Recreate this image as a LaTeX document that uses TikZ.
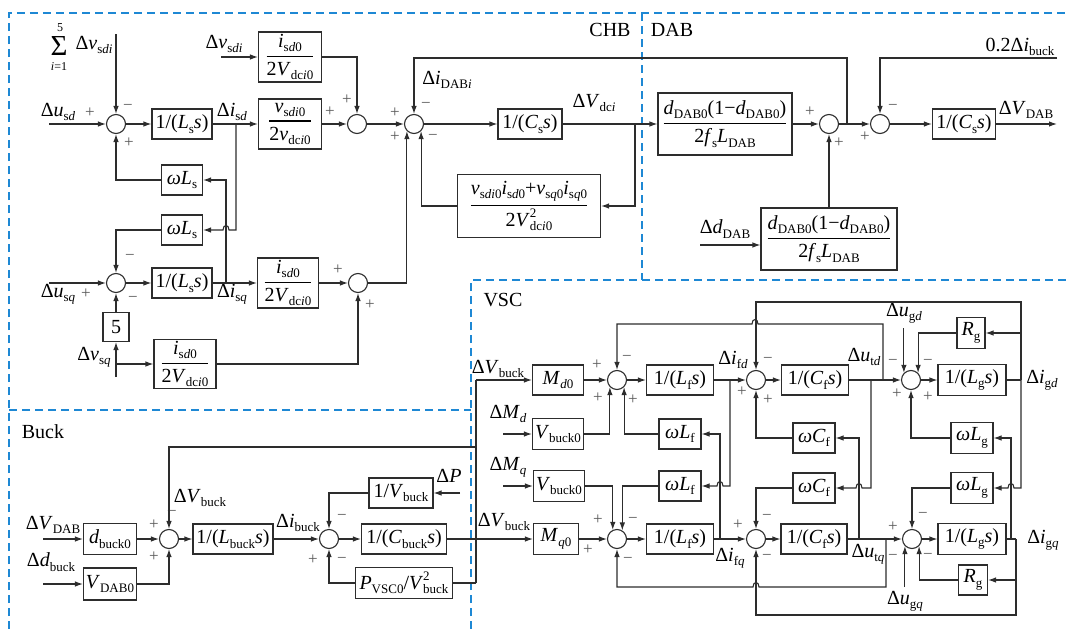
\documentclass[tikz,border=0pt]{standalone}
\usepackage{fontspec}
\setmainfont{Liberation Serif}
\usetikzlibrary{arrows.meta}
\definecolor{regblue}{RGB}{30,136,212}
\definecolor{lncol}{RGB}{45,45,45}
\newcommand\vi[1]{\textit{#1}}
\newcommand\lo[1]{\raisebox{-0.22em}{\fontsize{13}{13}\selectfont #1}}
\newcommand\hi[1]{\raisebox{0.45em}{\fontsize{13}{13}\selectfont #1}}
\newcommand\hilo[2]{\rlap{\hi{#1}}\lo{#2}}
\newcommand\fr[2]{$\displaystyle{\hbox{#1}\above 1.1pt\hbox{#2}}$}
\tikzset{
  ln/.style={draw=lncol, line width=1.1pt},
  ar/.style={ln, -{Latex[length=8pt,width=5.5pt]}},
  blk/.style={draw=lncol, line width=1.1pt, inner sep=1pt},
  bs/.style 2 args={minimum width=#1pt, minimum height=#2pt},
  sm/.style={draw=lncol, line width=1.1pt, circle, minimum size=19pt, inner sep=0pt},
  lb/.style={inner sep=0pt},
  sml/.style={inner sep=0pt, font=\fontsize{12}{12}\selectfont},
  sg/.style={inner sep=0pt, text=black!65, font=\fontsize{17}{17}\selectfont},
  reg/.style={draw=regblue, line width=1.2pt, dash pattern=on 8pt off 5pt},
}
\begin{document}
\begin{tikzpicture}[x=1pt, y=-1pt, font=\fontsize{20}{24}\selectfont]
\useasboundingbox (0,0) rectangle (1066,629);
% ---------- regions
\draw[reg] (9,629) -- (9,13) -- (1066,13);
\draw[reg] (642,13) -- (642,280);
\draw[reg] (471,629) -- (471,280) -- (1066,280);
\draw[reg] (9,410) -- (471,410);
\node[lb] (tCHB) at (610,30) {CHB};
\node[lb] (tDAB) at (672,30) {DAB};
\node[lb] (tVSC) at (503,300) {VSC};
\node[lb] (tBuck) at (43,432) {Buck};
% ---------- CHB nodes
\node[sm] (S1) at (116,124) {};
\node[blk,bs={60}{30}] (Ld) at (182,124) {1/(\vi{L}\lo{s}\vi{s})};
\node[blk,bs={41}{30}] (W1) at (182,180) {\vi{ω}\vi{L}\lo{s}};
\node[blk,bs={41}{30}] (W2) at (182,230) {\vi{ω}\vi{L}\lo{s}};
\node[sm] (S2) at (116,283) {};
\node[blk,bs={60}{30}] (Lq) at (182,283) {1/(\vi{L}\lo{s}\vi{s})};
\node[blk,bs={26}{29}] (F5) at (116,327) {5};
\node[blk,bs={62}{49}] (Bq2) at (185,364) {\fr{\vi{i}\lo{s\vi{d}0}}{2\vi{V}\lo{dc\vi{i}0}}};
\node[blk,bs={63}{50}] (Bd1) at (290,57) {\fr{\vi{i}\lo{s\vi{d}0}}{2\vi{V}\lo{dc\vi{i}0}}};
\node[blk,bs={63}{50}] (Bd2) at (290,124) {\fr{\vi{v}\lo{s\vi{di}0}}{2\vi{v}\lo{dc\vi{i}0}}};
\node[blk,bs={61}{50}] (Bq1) at (288,283) {\fr{\vi{i}\lo{s\vi{d}0}}{2\vi{V}\lo{dc\vi{i}0}}};
\node[sm] (S3) at (357,124) {};
\node[sm] (S4) at (358,283) {};
\node[sm] (S5) at (414,124) {};
\node[blk,bs={64}{30}] (Cs1) at (530,124) {1/(\vi{C}\lo{s}\vi{s})};
\node[blk,bs={143}{63}] (FB) at (529,206) {\fr{\vi{v}\lo{s\vi{di}0}\vi{i}\lo{s\vi{d}0}+\vi{v}\lo{s\vi{q}0}\vi{i}\lo{s\vi{q}0}}{2\vi{V}\hilo{2}{dc\vi{i}0}}};
% ---------- DAB nodes
\node[blk,bs={134}{62}] (DB1) at (725,124) {\fr{\vi{d}\lo{DAB0}(1−\vi{d}\lo{DAB0})}{2\vi{f}\lo{s}\vi{L}\lo{DAB}}};
\node[sm] (S6) at (829,124) {};
\node[sm] (S7) at (880,124) {};
\node[blk,bs={63}{30}] (Cs2) at (964,124) {1/(\vi{C}\lo{s}\vi{s})};
\node[blk,bs={136}{62}] (DB2) at (829,239) {\fr{\vi{d}\lo{DAB0}(1−\vi{d}\lo{DAB0})}{2\vi{f}\lo{s}\vi{L}\lo{DAB}}};
% ---------- VSC nodes
\node[blk,bs={51}{30}] (Md0) at (558,380) {\vi{M}\lo{\vi{d}0}};
\node[blk,bs={51}{31}] (Vb0d) at (558,434) {\vi{V}\lo{buck0}};
\node[sm] (Sfd) at (617,380) {};
\node[blk,bs={67}{30}] (Lfd) at (680,380) {1/(\vi{L}\lo{f}\vi{s})};
\node[blk,bs={42}{30}] (wLfd) at (680,434) {\vi{ω}\vi{L}\lo{f}};
\node[sm] (Scd) at (756,380) {};
\node[blk,bs={67}{30}] (Cfd) at (815,380) {1/(\vi{C}\lo{f}\vi{s})};
\node[blk,bs={42}{30}] (wCfd) at (814,438) {\vi{ω}\vi{C}\lo{f}};
\node[sm] (Sgd) at (911,380) {};
\node[blk,bs={28}{31}] (Rgd) at (971,333) {\vi{R}\lo{g}};
\node[blk,bs={68}{31}] (Lgd) at (972,380) {1/(\vi{L}\lo{g}\vi{s})};
\node[blk,bs={42}{31}] (wLgd) at (972,438) {\vi{ω}\vi{L}\lo{g}};
\node[blk,bs={51}{31}] (Vb0q) at (559,486) {\vi{V}\lo{buck0}};
\node[blk,bs={42}{30}] (wLfq) at (680,486) {\vi{ω}\vi{L}\lo{f}};
\node[blk,bs={42}{30}] (wCfq) at (814,488) {\vi{ω}\vi{C}\lo{f}};
\node[blk,bs={42}{31}] (wLgq) at (972,488) {\vi{ω}\vi{L}\lo{g}};
\node[blk,bs={45}{31}] (Mq0) at (556,539) {\vi{M}\lo{\vi{q}0}};
\node[sm] (Sfq) at (617,539) {};
\node[blk,bs={67}{30}] (Lfq) at (680,539) {1/(\vi{L}\lo{f}\vi{s})};
\node[sm] (Scq) at (756,539) {};
\node[blk,bs={66}{30}] (Cfq) at (814,539) {1/(\vi{C}\lo{f}\vi{s})};
\node[sm] (Sgq) at (912,539) {};
\node[blk,bs={68}{31}] (Lgq) at (972,539) {1/(\vi{L}\lo{g}\vi{s})};
\node[blk,bs={29}{30}] (Rgq) at (973,580) {\vi{R}\lo{g}};
% ---------- Buck nodes
\node[blk,bs={53}{31}] (dbk) at (110,539) {\vi{d}\lo{buck0}};
\node[blk,bs={53}{32}] (Vdab0) at (110,584) {\vi{V}\lo{DAB0}};
\node[sm] (Sbk) at (169,539) {};
\node[blk,bs={80}{30}] (Lbk) at (233,539) {1/(\vi{L}\lo{buck}\vi{s})};
\node[sm] (Sib) at (329,539) {};
\node[blk,bs={85}{30}] (Cbk) at (404,539) {1/(\vi{C}\lo{buck}\vi{s})};
\node[blk,bs={64}{30}] (Vbi) at (401,493) {1/\vi{V}\lo{buck}};
\node[blk,bs={97}{31}] (Pv) at (404,583) {\vi{P}\lo{VSC0}/\vi{V}\hilo{2}{buck}};
% ---------- labels
\node[lb, font=\fontsize{29}{29}\selectfont] (Lsig) at (59,46) {Σ};
\node[sml] (Lsig5) at (60,28) {5};
\node[sml] (Lsigi) at (59,67) {\vi{i}=1};
\node[lb] (Lvsdi1) at (94,45) {Δ\vi{v}\lo{s\vi{di}}};
\node[lb] (Lusd) at (58,112) {Δ\vi{u}\lo{s\vi{d}}};
\node[lb] (Lisd) at (232,112) {Δ\vi{i}\lo{s\vi{d}}};
\node[lb] (Lvsdi2) at (224,44) {Δ\vi{v}\lo{s\vi{di}}};
\node[lb] (Lisq) at (232,294) {Δ\vi{i}\lo{s\vi{q}}};
\node[lb] (Lusq) at (58,294) {Δ\vi{u}\lo{s\vi{q}}};
\node[lb] (Lvsq) at (94,357) {Δ\vi{v}\lo{s\vi{q}}};
\node[lb] (Lidab) at (447,80) {Δ\vi{i}\lo{DAB\vi{i}}};
\node[lb] (Lvdc) at (594,103) {Δ\vi{V}\lo{dc\vi{i}}};
\node[lb] (Lib02) at (1020,47) {0.2Δ\vi{i}\lo{buck}};
\node[lb] (Lvdab) at (1026,110) {Δ\vi{V}\lo{DAB}};
\node[lb] (Lddab) at (725,229) {Δ\vi{d}\lo{DAB}};
\node[lb] (Lvb1) at (498,369) {Δ\vi{V}\lo{buck}};
\node[lb] (LMd) at (508,414) {Δ\vi{M}\lo{\vi{d}}};
\node[lb] (LMq) at (508,467) {Δ\vi{M}\lo{\vi{q}}};
\node[lb] (Lvb2) at (504,522) {Δ\vi{V}\lo{buck}};
\node[lb] (Lifd) at (733,360) {Δ\vi{i}\lo{f\vi{d}}};
\node[lb] (Lifq) at (730,558) {Δ\vi{i}\lo{f\vi{q}}};
\node[lb] (Lutd) at (864,357) {Δ\vi{u}\lo{t\vi{d}}};
\node[lb] (Lutq) at (868,554) {Δ\vi{u}\lo{t\vi{q}}};
\node[lb] (Lugd) at (904,313) {Δ\vi{u}\lo{g\vi{d}}};
\node[lb] (Lugq) at (905,601) {Δ\vi{u}\lo{g\vi{q}}};
\node[lb] (Ligd) at (1042,380) {Δ\vi{i}\lo{g\vi{d}}};
\node[lb] (Ligq) at (1043,540) {Δ\vi{i}\lo{g\vi{q}}};
\node[lb] (Lvdab2) at (53,525) {Δ\vi{V}\lo{DAB}};
\node[lb] (Ldbk) at (51,562) {Δ\vi{d}\lo{buck}};
\node[lb] (Lvb3) at (200,498) {Δ\vi{V}\lo{buck}};
\node[lb] (Libk) at (298,523) {Δ\vi{i}\lo{buck}};
\node[lb] (LP) at (449,476) {Δ\vi{P}};
% ---------- signs
\foreach \x/\y/\t [count=\k] in {
  90/113/+, 128/107/−, 129/143/+, 86/294/+, 130/257/−, 133/299/−,
  347/100/+, 330/112/+, 338/270/+, 370/305/+,
  395/113/+, 395/137/+, 426/105/−, 433/137/−,
  810/112/+, 839/143/+, 865/137/+, 893/107/−,
  597/365/+, 627/358/−, 598/398/+, 633/400/+,
  742/392/+, 768/360/−, 768/400/+,
  893/362/−, 928/362/−, 897/394/+, 928/397/+,
  598/520/+, 633/520/−, 588/550/+, 628/560/−,
  738/525/+, 767/517/−, 767/557/−,
  893/527/+, 893/557/−, 928/556/−, 923/515/−,
  154/525/+, 154/557/+, 172/513/−,
  313/560/+, 342/517/−, 342/560/−}
  \node[sg] (sg\k) at (\x,\y) {\t};
% ---------- coordinates
\coordinate (iusd) at (49,124);
\coordinate (isum) at (116,34);
\coordinate (ivsdi) at (221,57);
\coordinate (iusq) at (49,283);
\coordinate (ivsq) at (116,377);
\coordinate (jvsq) at (116,364);
\coordinate (jd) at (236,124);
\coordinate (jq) at (226,283);
\coordinate (jdc) at (635,124);
\coordinate (jdab) at (847,124);
\coordinate (iib) at (1057,58);
\coordinate (ovdab) at (1057,124);
\coordinate (iddab) at (700,245);
\coordinate (vb1) at (476,380);
\coordinate (vb2) at (476,583);
\coordinate (vb3) at (476,447);
\coordinate (iMd) at (503,434);
\coordinate (iMq) at (503,486);
\coordinate (jgd) at (1021,380);
\coordinate (jgq) at (1016,539);
\coordinate (iugd) at (904,328);
\coordinate (iugq) at (905,587);
\coordinate (ivdab) at (43,539);
\coordinate (idbk) at (43,584);
\coordinate (iP) at (460,493);
% ---------- CHB connectors
\draw[ar] (iusd) -- (S1.west);
\draw[ar] (isum) -- (S1.north);
\draw[ar] (S1.east) -- (Ld.west);
\draw[ar] (Ld.east) -- (Bd2.west);
\draw[ar] (jd) -- (236,230) -- (229,230) .. controls (229,224) and (223,224) .. (223,230) -- (W2.east);
\draw[ar] (jq) -- (226,180) -- (W1.east);
\draw[ar] (W1.west) -| (S1.south);
\draw[ar] (W2.west) -| (S2.north);
\draw[ar] (iusq) -- (S2.west);
\draw[ar] (F5.north) -- (S2.south);
\draw[ar] (ivsq) -- (F5.south);
\draw[ar] (jvsq) -- (Bq2.west);
\draw[ar] (S2.east) -- (Lq.west);
\draw[ar] (Lq.east) -- (Bq1.west);
\draw[ar] (Bq1.east) -- (S4.west);
\draw[ar] (Bq2.east) -| (S4.south);
\draw[ar] (S4.east) -| (S5.south west);
\draw[ar] (ivsdi) -- (Bd1.west);
\draw[ar] (Bd1.east) -| (S3.north);
\draw[ar] (Bd2.east) -- (S3.west);
\draw[ar] (S3.east) -- (S5.west);
\draw[ar] (S5.east) -- (Cs1.west);
\draw[ar] (Cs1.east) -- (DB1.west);
\draw[ar] (jdc) |- (FB.east);
\draw[ar] (FB.west) -| (S5.south east);
\draw[ar] (jdab) -- (847,58) -| (S5.north);
% ---------- DAB connectors
\draw[ar] (DB1.east) -- (S6.west);
\draw[ar] (S6.east) -- (S7.west);
\draw[ar] (S7.east) -- (Cs2.west);
\draw[ar] (Cs2.east) -- (ovdab);
\draw[ar] (iib) -| (S7.north);
\draw[ar] (DB2.north) -- (S6.south);
\draw[ar] (iddab) -- (DB2.west |- iddab);
% ---------- VSC connectors
\draw[ln] (vb2) -- (vb1);
\draw[ar] (vb1) -- (Md0.west);
\draw[ar] (Md0.east) -- (Sfd.west);
\draw[ar] (Sfd.east) -- (Lfd.west);
\draw[ar] (Lfd.east) -- (Scd.west);
\draw[ar] (Scd.east) -- (Cfd.west);
\draw[ar] (Cfd.east) -- (Sgd.west);
\draw[ar] (Sgd.east) -- (Lgd.west);
\draw[ln] (Lgd.east) -- (jgd);
\draw[ar] (iMd) -- (Vb0d.west);
\draw[ar] (Vb0d.east) -| (Sfd.south west);
\draw[ar] (wLfd.west) -| (Sfd.south east);
\draw[ar] (730,380) -- (730,486) -- (723,486) .. controls (723,480) and (717,480) .. (717,486) -- (wLfq.east);
\draw[ar] (720,539) -- (720,434) -- (wLfd.east);
\draw[ar] (883,380) -- (883,324) -- (758,324) .. controls (758,318) and (752,318) .. (752,324) -- (617,324) -- (Sfd.north);
\draw[ar] (jgd) -- (1021,302) -| (Scd.north);
\draw[ar] (jgd) -- (1021,488) -- (1014,488) .. controls (1014,482) and (1008,482) .. (1008,488) -- (wLgq.east);
\draw[ar] (1021,333) -- (Rgd.east);
\draw[ar] (Rgd.west) -| (Sgd.north east);
\draw[ar] (Sgd.north west |- iugd) -- (Sgd.north west);
\draw[ar] (wLgd.west) -| (Sgd.south);
\draw[ar] (1011,539) -- (1011,438) -- (wLgd.east);
\draw[ar] (859,539) -- (859,438) -- (wCfd.east);
\draw[ar] (wCfd.west) -| (Scd.south);
\draw[ar] (871,380) -- (871,488) -- (862,488) .. controls (862,482) and (856,482) .. (856,488) -- (wCfq.east);
\draw[ar] (wCfq.west) -| (Scq.north);
\draw[ar] (Cbk.east) -- (Mq0.west);
\draw[ar] (iMq) -- (Vb0q.west);
\draw[ar] (Vb0q.east) -| (Sfq.115);
\draw[ar] (wLfq.west) -| (Sfq.58);
\draw[ar] (Mq0.east) -- (Sfq.west);
\draw[ar] (Sfq.east) -- (Lfq.west);
\draw[ar] (Lfq.east) -- (Scq.west);
\draw[ar] (Scq.east) -- (Cfq.west);
\draw[ar] (Cfq.east) -- (Sgq.west);
\draw[ar] (Sgq.east) -- (Lgq.west);
\draw[ln] (Lgq.east) -- (jgq);
\draw[ar] (886,539) -- (886,587) -- (759,587) .. controls (759,581) and (753,581) .. (753,587) -- (617,587) -- (Sfq.south);
\draw[ar] (jgq) -- (1016,615) -| (Scq.south);
\draw[ar] (1016,580) -- (Rgq.east);
\draw[ar] (Rgq.west) -| (Sgq.south east);
\draw[ar] (Sgq.south west |- iugq) -- (Sgq.south west);
\draw[ar] (wLgq.west) -| (Sgq.north);
% ---------- Buck connectors
\draw[ar] (ivdab) -- (dbk.west);
\draw[ar] (dbk.east) -- (Sbk.west);
\draw[ar] (idbk) -- (Vdab0.west);
\draw[ar] (Vdab0.east) -| (Sbk.south);
\draw[ar] (vb3) -| (Sbk.north);
\draw[ar] (Sbk.east) -- (Lbk.west);
\draw[ar] (Lbk.east) -- (Sib.west);
\draw[ar] (Sib.east) -- (Cbk.west);
\draw[ar] (iP) -- (Vbi.east);
\draw[ar] (Vbi.west) -| (Sib.north);
\draw[ln] (vb2) -- (Pv.east);
\draw[ar] (Pv.west) -| (Sib.south);
\end{tikzpicture}
\end{document}
